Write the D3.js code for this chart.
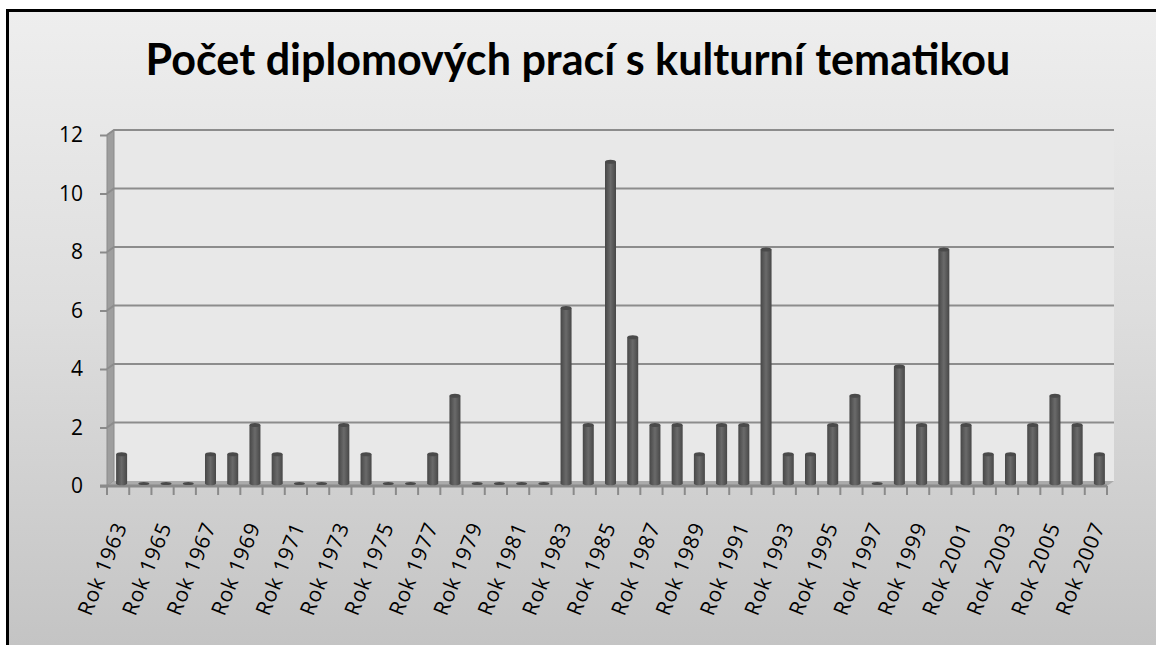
<!DOCTYPE html>
<html><head><meta charset="utf-8">
<script src="https://cdn.jsdelivr.net/npm/d3@7"></script>
<style>html,body{margin:0;padding:0;background:#fff;}svg{display:block;}</style>
</head><body>
<svg id="chart" width="1156" height="645"></svg>
<script>
const title = "Počet diplomových prací s kulturní tematikou";
const categories = ["Rok 1963","Rok 1964","Rok 1965","Rok 1966","Rok 1967","Rok 1968","Rok 1969","Rok 1970","Rok 1971","Rok 1972",
  "Rok 1973","Rok 1974","Rok 1975","Rok 1976","Rok 1977","Rok 1978","Rok 1979","Rok 1980","Rok 1981","Rok 1982",
  "Rok 1983","Rok 1984","Rok 1985","Rok 1986","Rok 1987","Rok 1988","Rok 1989","Rok 1990","Rok 1991","Rok 1992",
  "Rok 1993","Rok 1994","Rok 1995","Rok 1996","Rok 1997","Rok 1998","Rok 1999","Rok 2000","Rok 2001","Rok 2002",
  "Rok 2003","Rok 2004","Rok 2005","Rok 2006","Rok 2007"];
const values = [1,0,0,0,1,1,2,1,0,0, 2,1,0,0,1,3,0,0,0,0, 6,2,11,5,2,2,1,2,2,8, 1,1,2,3,0,4,2,8,2,1, 1,2,3,2,1];
const yTicks = [0,2,4,6,8,10,12];
const shownLabels = categories.filter((d,i)=>i%2===0);

const svg = d3.select("#chart");
const defs = svg.append("defs");
const bg = defs.append("linearGradient").attr("id","bg").attr("x1",0).attr("y1",0).attr("x2",0).attr("y2",1);
bg.append("stop").attr("offset","0%").attr("stop-color","#eeeeee");
bg.append("stop").attr("offset","45%").attr("stop-color","#dedede");
bg.append("stop").attr("offset","100%").attr("stop-color","#c2c2c2");
const cyl = defs.append("linearGradient").attr("id","cyl").attr("x1",0).attr("y1",0).attr("x2",1).attr("y2",0);
cyl.append("stop").attr("offset","0%").attr("stop-color","#474747");
cyl.append("stop").attr("offset","20%").attr("stop-color","#555555");
cyl.append("stop").attr("offset","50%").attr("stop-color","#6a6a6a");
cyl.append("stop").attr("offset","80%").attr("stop-color","#555555");
cyl.append("stop").attr("offset","100%").attr("stop-color","#474747");

// background & frame
svg.append("rect").attr("x",7.5).attr("y",10.5).attr("width",1170).attr("height",660)
  .attr("fill","url(#bg)").attr("stroke","#000").attr("stroke-width",3);

// 3D geometry
const depthX = 7, depthY = 5;
const x = d3.scaleBand().domain(categories).range([107,1107]).paddingInner(0).paddingOuter(0);
const yB = d3.scaleLinear().domain([0,12]).range([481,130]);   // back wall
const yF = d3.scaleLinear().domain([0,12]).range([481+depthY,130+depthY]); // front

const left = 107, right = 1107;
const g = svg.append("g");
g.append("rect").attr("x",left+depthX).attr("y",yB(12)).attr("width",right-left).attr("height",yB(0)-yB(12)).attr("fill","#e8e8e8");
g.append("path").attr("d",`M${left},${yF(12)}L${left+depthX},${yB(12)}L${left+depthX},${yB(0)}L${left},${yF(0)}Z`)
  .attr("fill","#9e9e9e").attr("stroke","#8a8a8a").attr("stroke-width",1);
g.append("path").attr("d",`M${left},${yF(0)}L${left+depthX},${yB(0)}L${right+depthX},${yB(0)}L${right},${yF(0)}Z`)
  .attr("fill","#ababab");
g.selectAll(".grid").data(yTicks.filter(d=>d>0)).join("path").attr("class","grid")
  .attr("d",d=>`M${left},${yF(d)}L${left+depthX},${yB(d)}L${right+depthX},${yB(d)}`)
  .attr("fill","none").attr("stroke","#8c8c8c").attr("stroke-width",2);

// y axis
const yAxis = d3.axisLeft(yF).tickValues(yTicks).tickSize(7).tickPadding(17);
const ya = svg.append("g").attr("transform",`translate(${left},0)`).call(yAxis);
ya.select(".domain").remove();
ya.selectAll(".tick line").attr("stroke","#8a8a8a").attr("stroke-width",2);
ya.selectAll("text").attr("font-family","'Open Sans', sans-serif").attr("font-size",21).attr("fill","#000");

// x axis line & ticks at category boundaries
svg.append("line").attr("x1",100).attr("x2",right).attr("y1",yF(0)).attr("y2",yF(0)).attr("stroke","#8a8a8a").attr("stroke-width",3);
const bounds = categories.map(c=>x(c)).concat([right]);
svg.selectAll(".xt").data(bounds).join("line").attr("class","xt")
  .attr("x1",d=>d).attr("x2",d=>d).attr("y1",yF(0)).attr("y2",yF(0)+9)
  .attr("stroke","#8a8a8a").attr("stroke-width",2);

// bars (cylinders)
const bw = 11;
const cx = c => x(c) + x.bandwidth()/2 + depthX/2;
const baseY = yB(0) + depthY/2;
const bars = svg.append("g").selectAll("g").data(categories.map((c,i)=>({c,v:values[i]}))).join("g");
bars.filter(d=>d.v>0).append("rect")
  .attr("x",d=>cx(d.c)-bw/2).attr("width",bw)
  .attr("y",d=>yB(d.v)+depthY/2).attr("height",d=>baseY-(yB(d.v)+depthY/2))
  .attr("fill","url(#cyl)");
bars.filter(d=>d.v>0).append("ellipse")
  .attr("cx",d=>cx(d.c)).attr("cy",d=>baseY).attr("rx",bw/2).attr("ry",1.8).attr("fill","url(#cyl)");
bars.append("ellipse")
  .attr("cx",d=>cx(d.c)).attr("cy",d=>d.v>0? yB(d.v)+depthY/2 : baseY).attr("rx",bw/2).attr("ry",d=>d.v>0?2:1.6)
  .attr("fill","#4a4a4a");

// x labels
svg.selectAll(".xl").data(shownLabels).join("text").attr("class","xl")
  .attr("transform",d=>`translate(${cx(d)+6},${yF(0)+40}) rotate(-68)`)
  .attr("text-anchor","end")
  .attr("font-family","'Open Sans', sans-serif").attr("font-size",21).attr("letter-spacing",1).attr("fill","#000")
  .text(d=>d);

// title
const t = svg.append("text").attr("x",578).attr("y",75).attr("text-anchor","middle")
  .attr("font-family","Lato, 'Open Sans', sans-serif").attr("font-weight","bold").attr("font-size",40).attr("fill","#000")
  .text(title);
const w = t.node().getComputedTextLength();
t.attr("font-size", 40*865/w);
</script>
</body></html>
